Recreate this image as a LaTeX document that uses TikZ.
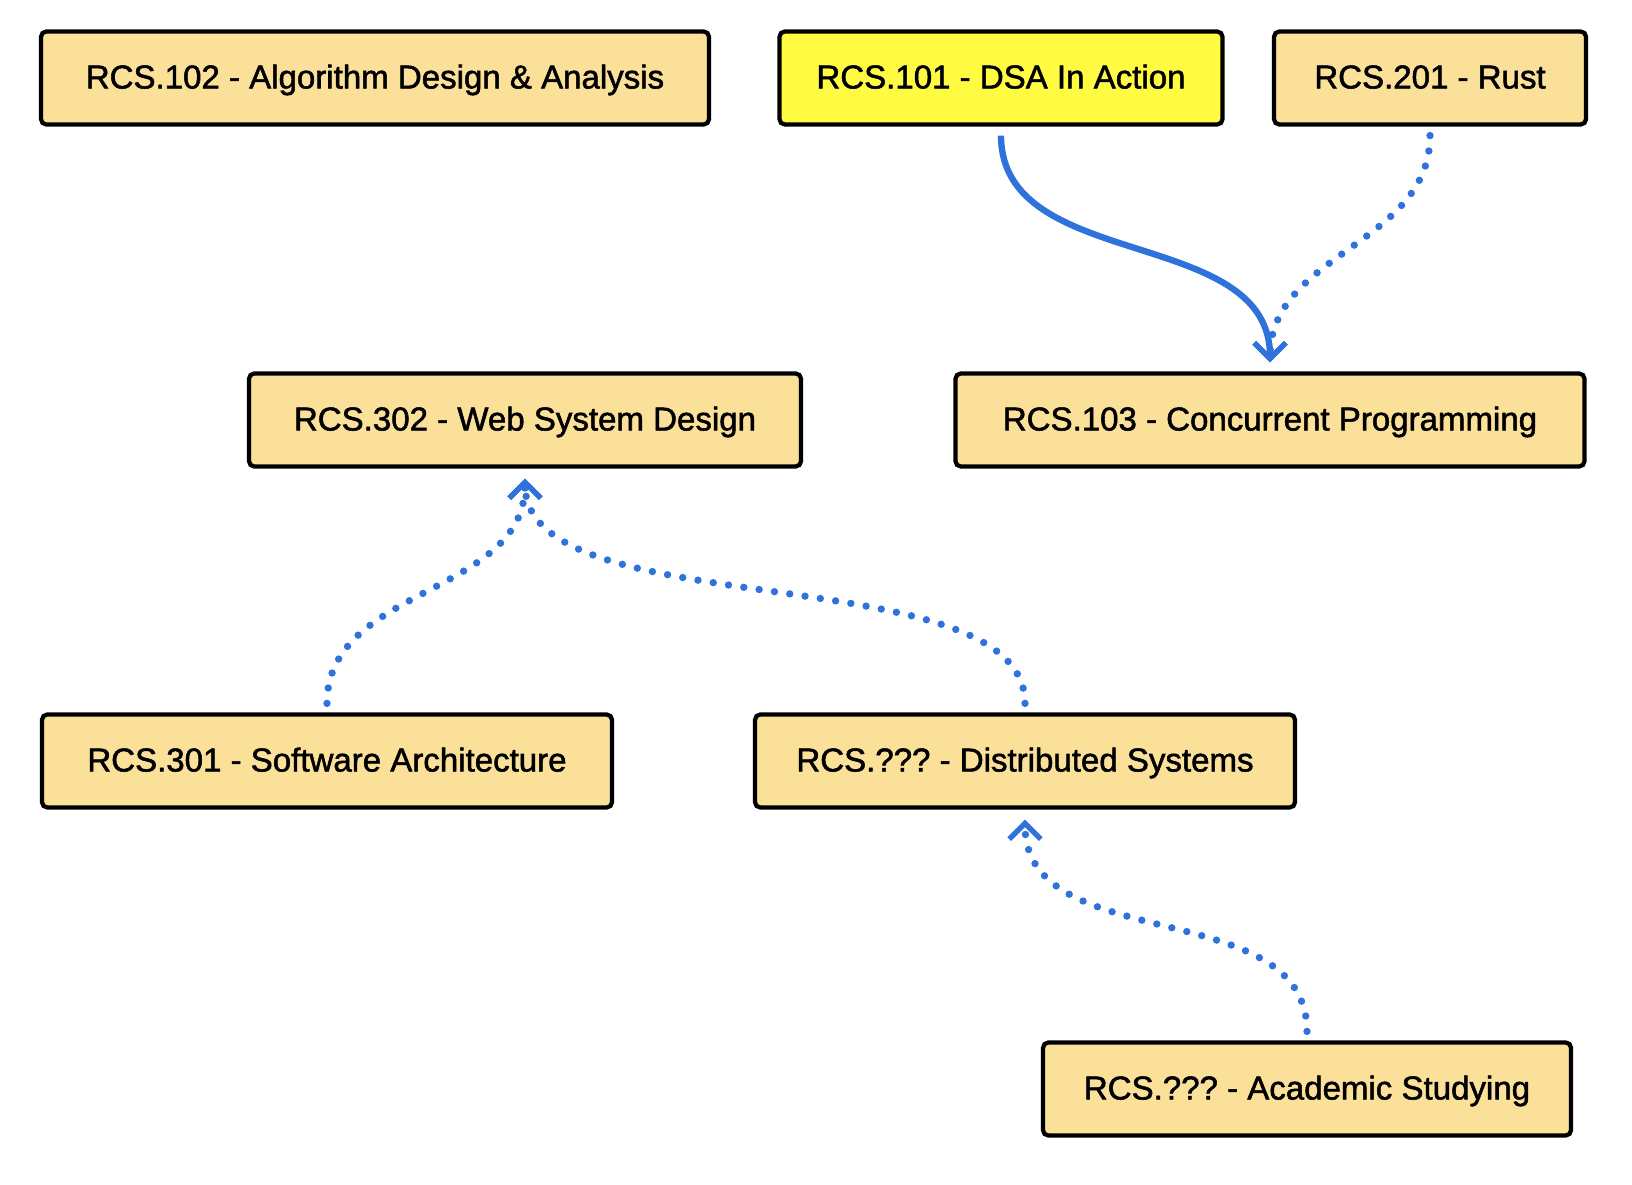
\documentclass[tikz,border=0pt]{standalone}
\usepackage{fontspec}
\setmainfont{Liberation Sans}[FakeBold=1.6]
\usepackage{tikz}
\usetikzlibrary{positioning, calc}
\usetikzlibrary{arrows.meta}
\definecolor{boxfill}{HTML}{FBE09A}
\definecolor{hotfill}{HTML}{FFFA42}
\definecolor{linkblue}{HTML}{2F72DB}
\frenchspacing

\begin{document}
\begin{tikzpicture}[draw=black!100]
	\fontsize{9.4pt}{11pt}\selectfont
	\def \rowone{11.06cm}
	\def \rowtwo{7.64cm}
	\def \rowthree{4.23cm}
	\def \rowfour{0.95cm}

	\tikzstyle{c-node}=[rectangle,draw=black!100,fill=boxfill,line width=1.2pt,rounded corners=1.5pt,minimum height=0.93cm,inner sep=0pt,text height=1.6ex,text depth=0.4ex]
	\tikzstyle{h-node}=[c-node,fill=hotfill]
	\tikzstyle{must}=[draw=linkblue,line width=1.8pt,-{Straight Barb[length=4.5pt,width=9pt,line width=1.5pt]}]
	\tikzstyle{maybe}=[draw=linkblue,line width=2.1pt,line cap=round,dash pattern=on 0pt off 4.4pt,-{Straight Barb[length=4.5pt,width=9pt,line width=1.5pt]}]

	\useasboundingbox (0,0) rectangle (16.32,11.84);

	% first row
	\node[c-node,minimum width=6.68cm] (c102) at (3.75cm,\rowone) {RCS.102 - Algorithm Design \& Analysis};
	\node[h-node,minimum width=4.43cm] (c101) at (10.01cm,\rowone) {RCS.101 - DSA In Action};
	\node[c-node,minimum width=3.12cm] (c201) at (14.30cm,\rowone) {RCS.201 - Rust};

	% second row
	\node[c-node,minimum width=5.52cm] (c302) at (5.25cm,\rowtwo) {RCS.302 - Web System Design};
	\node[c-node,minimum width=6.29cm] (c103) at (12.70cm,\rowtwo) {RCS.103 - Concurrent Programming};

	% third row
	\node[c-node,minimum width=5.70cm] (c301) at (3.27cm,\rowthree) {RCS.301 - Software Architecture};
	\node[c-node,minimum width=5.40cm] (cdist) at (10.25cm,\rowthree) {RCS.??? - Distributed Systems};

	% fourth row
	\node[c-node,minimum width=5.28cm] (cacad) at (13.07cm,\rowfour) {RCS.??? - Academic Studying};

	\draw[must] (c101.south) ++(0,-0.09) to[out=-90,in=90] ($(c103.north)+(0,0.09)$);
	\draw[maybe] (c201.south) ++(0,-0.09) to[out=-90,in=90] ($(c103.north)+(0,0.09)$);
	\draw[maybe] (c301.north) ++(0,0.09) to[out=90,in=-90] ($(c302.south)+(0,-0.1)$);
	\draw[maybe] (cdist.north) ++(0,0.09) to[out=90,in=-90,looseness=0.7] ($(c302.south)+(0,-0.1)$);
	\draw[maybe] (cacad.north) ++(0,0.09) to[out=90,in=-90] ($(cdist.south)+(0,-0.1)$);
\end{tikzpicture}
\end{document}
